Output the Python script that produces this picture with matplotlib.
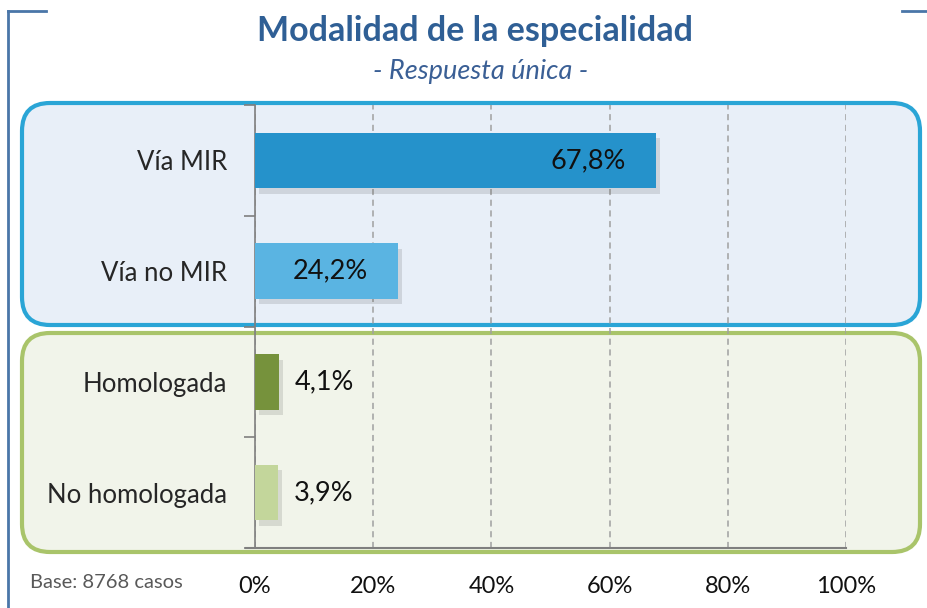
import matplotlib.pyplot as plt
import matplotlib.patheffects as pe
from matplotlib.patches import FancyBboxPatch
import numpy as np

plt.rcParams['font.family'] = ['Lato', 'DejaVu Sans']

categorias = ['Vía MIR', 'Vía no MIR', 'Homologada', 'No homologada']
valores = [67.8, 24.2, 4.1, 3.9]
colores = ['#2592cb', '#5ab4e2', '#76923c', '#c3d69b']
etiquetas_x = ['0%', '20%', '40%', '60%', '80%', '100%']

fig = plt.figure(figsize=(9.28, 6.08), dpi=100)

# background layer in pixel units (boxes, frame, titles)
bg = fig.add_axes([0, 0, 1, 1], zorder=0)
bg.set_xlim(0, 928)
bg.set_ylim(608, 0)
bg.axis('off')

blue_box = FancyBboxPatch((22, 103), 898, 222, boxstyle='round,pad=0,rounding_size=28',
                          facecolor='#e8eff8', edgecolor='#2aa5d6', linewidth=3)
green_box = FancyBboxPatch((22, 333), 898, 219, boxstyle='round,pad=0,rounding_size=28',
                           facecolor='#f1f4ea', edgecolor='#a9c46a', linewidth=3)
bg.add_patch(blue_box)
bg.add_patch(green_box)

frame_col = '#4a76a8'
bg.plot([8, 8], [11, 608], color=frame_col, lw=2)
bg.plot([8, 46], [11, 11], color=frame_col, lw=2)
bg.plot([902, 928], [11, 11], color=frame_col, lw=2)

bg.text(475, 31, 'Modalidad de la especialidad', ha='center', va='center',
        fontsize=24.5, fontweight='bold', color='#2f5f95')
bg.text(481, 71, '- Respuesta única -', ha='center', va='center',
        fontsize=19.5, style='italic', color='#3a5f95')
bg.text(30, 583, 'Base: 8768 casos', ha='left', va='center', fontsize=14.5, color='#595959')

# main chart
ax = fig.add_axes([255 / 928, 1 - 548 / 608, 591 / 928, 443 / 608], zorder=1)
ax.patch.set_alpha(0)
y = np.arange(len(categorias))
bars = ax.barh(y, valores, height=0.5, color=colores, zorder=3)
for b in bars:
    b.set_path_effects([pe.SimplePatchShadow(offset=(3, -4), alpha=0.15, shadow_rgbFace='#404040'),
                        pe.Normal()])

for v, yy in zip(valores, y):
    txt = f'{v:.1f}%'.replace('.', ',')
    if v > 15:
        ax.text(v - 5, yy, txt, ha='right', va='center', fontsize=19.5, color='#111111', zorder=4)
    else:
        ax.text(v + 2.7, yy, txt, ha='left', va='center', fontsize=19.5, color='#111111', zorder=4)

ax.set_xlim(0, 100)
ax.set_ylim(len(categorias) - 0.5, -0.5)
ax.set_xticks(np.arange(0, 101, 20))
ax.set_xticklabels(etiquetas_x, fontsize=17, color='#111111')
ax.set_yticks(y)
ax.set_yticklabels(categorias, fontsize=18.5, color='#262626')
ax.set_yticks(np.arange(-0.5, len(categorias), 1), minor=True)
ax.tick_params(axis='y', which='major', length=0, pad=20)
ax.tick_params(axis='y', which='minor', length=8, color='#7f7f7f', width=1.2)
ax.tick_params(axis='x', length=0, pad=20)
ax.grid(axis='x', linestyle=(0, (4, 3)), color='#a0a0a0', linewidth=1.1, zorder=1)
for s in ['top', 'right']:
    ax.spines[s].set_visible(False)
ax.spines['left'].set_color('#7f7f7f')
ax.spines['left'].set_linewidth(1.2)
ax.spines['bottom'].set_color('#7f7f7f')
ax.spines['bottom'].set_linewidth(1.5)
ax.spines['bottom'].set_bounds(-1.5, 100)
ax.spines['bottom'].set_zorder(5)

fig.savefig('out.png', dpi=100)
